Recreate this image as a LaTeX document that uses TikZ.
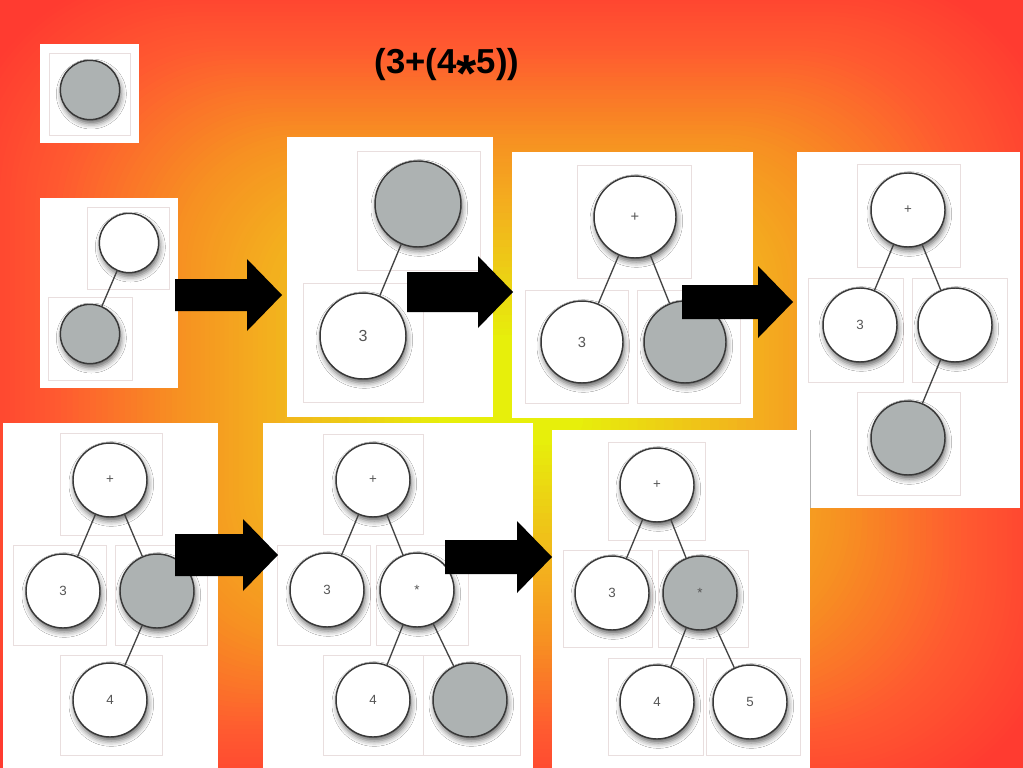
\documentclass[tikz,border=0pt]{standalone}
\usepackage{fontspec}
\setmainfont{Liberation Sans}
\usetikzlibrary{shadows.blur}

\definecolor{bgred}{HTML}{FF3B30}
\definecolor{bgflame}{HTML}{FF5A30}
\definecolor{bgorange}{HTML}{F78F22}
\definecolor{bgamber}{HTML}{F3B01E}
\definecolor{bgyellow}{HTML}{E6F20A}
\definecolor{cellpink}{HTML}{E9DEDE}
\definecolor{holegray}{HTML}{ADB2B2}
\definecolor{ringgray}{HTML}{383838}
\definecolor{stemgray}{HTML}{444444}
\definecolor{labelgray}{HTML}{555555}

\begin{document}
\begin{tikzpicture}
    [x=0.75pt, y=-0.75pt,
    panel/.style={fill=white},
    cell/.style={draw=cellpink, line width=0.6pt},
    ring/.style={circle, draw=ringgray, line width=1.1pt, inner sep=0pt, text=labelgray,
        font=\fontsize{10}{12}\selectfont,
        blur shadow={shadow xshift=1pt, shadow yshift=-3pt, shadow blur radius=4pt, shadow opacity=60}},
    open/.style={ring, fill=white},
    hole/.style={ring, fill=holegray},
    r30/.style={minimum size=44.5pt},
    r37/.style={minimum size=55.5pt},
    r41/.style={minimum size=61.5pt, font=\fontsize{11}{13}\selectfont},
    r43/.style={minimum size=64.5pt, font=\fontsize{12}{14}\selectfont},
    stem/.style={draw=stemgray, line width=1pt},
    blockarrow/.style={fill=black}]

    \useasboundingbox (0,0) rectangle (1023,767);
    \clip (0,0) rectangle (1023,767);

    % background glow, outside in
    \fill[bgred] (-5,-5) rectangle (1030,775);
    \foreach \ra/\rb/\ca/\cb in {0.86/1.05/bgflame/bgred, 0.64/0.86/bgorange/bgflame,
        0.46/0.64/bgamber/bgorange, 0.12/0.46/bgyellow/bgamber}
        \foreach \j in {20,...,1} {
            \pgfmathsetmacro{\rr}{\ra+(\rb-\ra)*\j/20}
            \pgfmathtruncatemacro{\pc}{100*\j/20}
            \fill[\cb!\pc!\ca, rounded corners=\rr*150pt]
                (511-\rr*530,390-\rr*400) rectangle (511+\rr*530,390+\rr*400);
        }

    % one empty node
    \fill[panel] (40,44) rectangle (139,143);
    \draw[cell] (49,53) rectangle (130,135);
    \node[hole, r30] (a) at (90,90) {};

    % node with empty child
    \fill[panel] (40,198) rectangle (178,388);
    \draw[cell] (87,207) rectangle (169,289) (48,297) rectangle (132,380);
    \node[open, r30] (b) at (129,243) {};
    \node[hole, r30] (bl) at (90,334) {};
    \draw[stem] (b) -- (bl);

    % 3 read
    \fill[panel] (287,137) rectangle (493,417);
    \draw[cell] (357,151) rectangle (480,270) (303,283) rectangle (423,402);
    \node[hole, r43] (c) at (418,204) {};
    \node[open, r43] (cl) at (363,336) {3};
    \draw[stem] (c) -- (cl);

    % + read
    \fill[panel] (512,152) rectangle (753,418);
    \draw[cell] (577,165) rectangle (691,278) (525,290) rectangle (628,403)
        (637,290) rectangle (740,403);
    \node[open, r41] (d) at (635,217) {+};
    \node[open, r41] (dl) at (582,342) {3};
    \node[hole, r41] (dr) at (685,342) {};
    \draw[stem] (d) -- (dl) (d) -- (dr);

    % ( read
    \fill[panel] (797,152) rectangle (1020,508);
    \draw[cell] (857,164) rectangle (960,267) (808,278) rectangle (903,382)
        (912,278) rectangle (1007,382) (857,392) rectangle (960,495);
    \node[open, r37] (e) at (908,210) {+};
    \node[open, r37] (el) at (860,325) {3};
    \node[open, r37] (er) at (955,325) {};
    \node[hole, r37] (erl) at (908,438) {};
    \draw[stem] (e) -- (el) (e) -- (er) (er) -- (erl);

    % 4 read
    \fill[panel] (3,423) rectangle (218,772);
    \draw[cell] (60,433) rectangle (162,535) (13,545) rectangle (106,645)
        (115,545) rectangle (207,645) (60,655) rectangle (162,755);
    \node[open, r37] (f) at (110,480) {+};
    \node[open, r37] (fl) at (63,591) {3};
    \node[hole, r37] (fr) at (157,591) {};
    \node[open, r37] (frl) at (110,700) {4};
    \draw[stem] (f) -- (fl) (f) -- (fr) (fr) -- (frl);

    % * read
    \fill[panel] (263,423) rectangle (533,772);
    \draw[cell] (323,434) rectangle (423,534) (277,545) rectangle (370,645)
        (376,545) rectangle (468,645) (323,655) rectangle (423,755)
        (423,655) rectangle (520,755);
    \node[open, r37] (g) at (373,480) {+};
    \node[open, r37] (gl) at (327,590) {3};
    \node[open, r37] (gr) at (417,590) {\raisebox{-0.35ex}{*}};
    \node[open, r37] (grl) at (373,700) {4};
    \node[hole, r37] (grr) at (470,700) {};
    \draw[stem] (g) -- (gl) (g) -- (gr) (gr) -- (grl) (gr) -- (grr);

    % 5 read
    \fill[panel] (552,430) rectangle (810,772);
    \draw[draw=gray!60, line width=0.6pt] (810,430) -- (810,508);
    \draw[cell] (608,442) rectangle (705,540) (563,550) rectangle (652,647)
        (658,550) rectangle (748,647) (608,658) rectangle (703,755)
        (706,658) rectangle (800,755);
    \node[open, r37] (h) at (657,485) {+};
    \node[open, r37] (hl) at (612,593) {3};
    \node[hole, r37] (hr) at (700,593) {\raisebox{-0.35ex}{*}};
    \node[open, r37] (hrl) at (657,702) {4};
    \node[open, r37] (hrr) at (750,702) {5};
    \draw[stem] (h) -- (hl) (h) -- (hr) (hr) -- (hrl) (hr) -- (hrr);

    % arrows between steps
    \foreach \xa/\xb/\yy/\hb in {175/282/295/16, 407/513/292/20, 682/793/302/17,
        175/278/555/21, 445/552/557/17}
        \fill[blockarrow] (\xa,\yy-\hb) -- (\xb-35,\yy-\hb) -- (\xb-35,\yy-36)
            -- (\xb,\yy) -- (\xb-35,\yy+36) -- (\xb-35,\yy+\hb) -- (\xa,\yy+\hb) -- cycle;

    \node[font=\fontsize{26}{31}\selectfont\bfseries] (expr) at (447,70)
        {(3+(4\raisebox{-0.5em}{\scalebox{1.5}{*}}5))};
\end{tikzpicture}
\end{document}
